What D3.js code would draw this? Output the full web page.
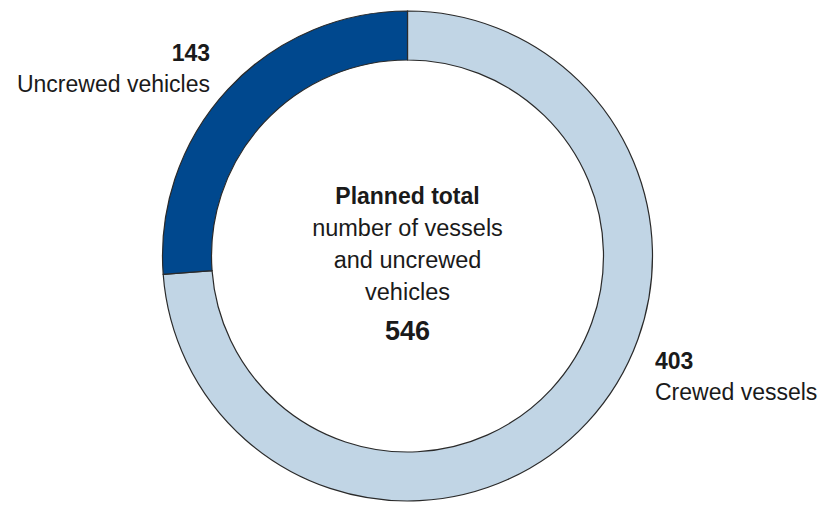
<!DOCTYPE html>
<html>
<head>
<meta charset="utf-8">
<script src="https://cdn.jsdelivr.net/npm/d3@7"></script>
<style>
  body { margin: 0; background: #fff; overflow: hidden; }
  svg { display: block; }
  text { font-family: "Liberation Sans", Arial, sans-serif; fill: #1a1a1a; }
</style>
</head>
<body>
<div id="chart"></div>
<script>
// data
var categories = ["Crewed vessels", "Uncrewed vehicles"];
var values = [403, 143];
var colors = ["#c1d5e5", "#00488e"];
var centerLines = ["number of vessels", "and uncrewed", "vehicles"];
var centerTitle = "Planned total";
var total = d3.sum(values);

var width = 822, height = 506;
var cx = 407.5, cy = 256;
var outerR = 245, innerR = 196;

var svg = d3.select("#chart").append("svg")
    .attr("width", width)
    .attr("height", height);

var g = svg.append("g")
    .attr("transform", "translate(" + cx + "," + cy + ")");

var pie = d3.pie().sort(null).value(function(d) { return d; });
var arc = d3.arc().innerRadius(innerR).outerRadius(outerR);

g.selectAll("path")
    .data(pie(values))
    .enter().append("path")
    .attr("d", arc)
    .attr("fill", function(d, i) { return colors[i]; })
    .attr("stroke", "#2a2a2a")
    .attr("stroke-width", 1.2);

// centre text
g.append("text")
    .attr("text-anchor", "middle")
    .attr("y", 204 - cy)
    .attr("font-size", 23)
    .attr("font-weight", "bold")
    .text(centerTitle);

g.selectAll(".cline")
    .data(centerLines)
    .enter().append("text")
    .attr("class", "cline")
    .attr("text-anchor", "middle")
    .attr("y", function(d, i) { return 236 + i * 32 - cy; })
    .attr("font-size", 23.5)
    .text(function(d) { return d; });

g.append("text")
    .attr("text-anchor", "middle")
    .attr("y", 340 - cy)
    .attr("font-size", 27)
    .attr("font-weight", "bold")
    .text(total);

// left label (uncrewed)
svg.append("text")
    .attr("x", 210).attr("y", 61)
    .attr("text-anchor", "end")
    .attr("font-size", 23)
    .attr("font-weight", "bold")
    .text(values[1]);
svg.append("text")
    .attr("x", 210).attr("y", 92)
    .attr("text-anchor", "end")
    .attr("font-size", 23)
    .text(categories[1]);

// right label (crewed)
svg.append("text")
    .attr("x", 655).attr("y", 369)
    .attr("font-size", 23)
    .attr("font-weight", "bold")
    .text(values[0]);
svg.append("text")
    .attr("x", 655).attr("y", 400)
    .attr("font-size", 23)
    .text(categories[0]);
</script>
</body>
</html>
